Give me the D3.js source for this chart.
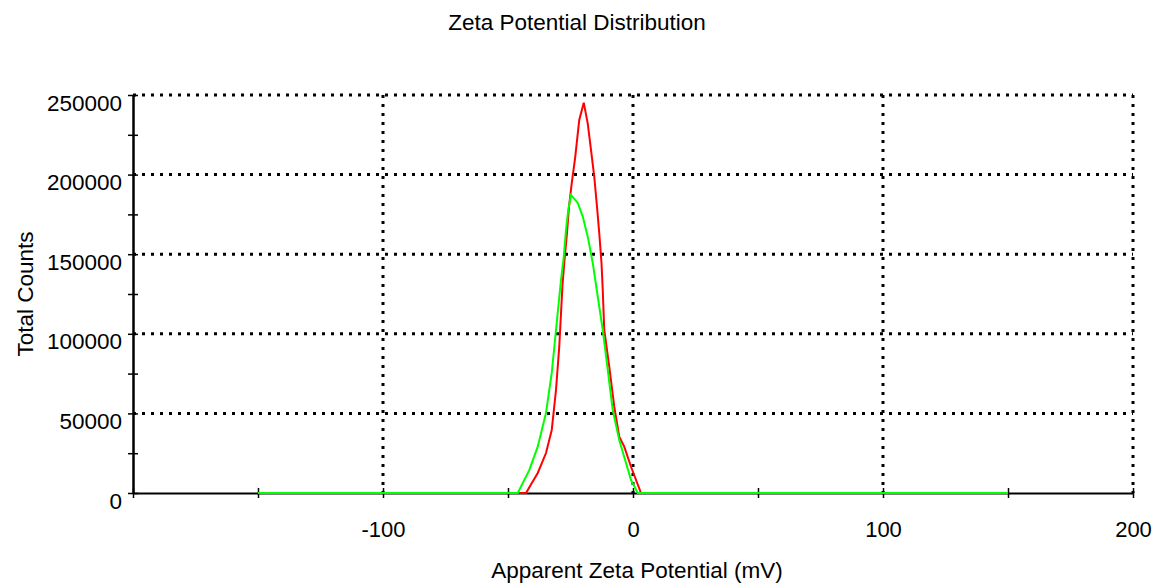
<!DOCTYPE html>
<html>
<head>
<meta charset="utf-8">
<script src="https://cdn.jsdelivr.net/npm/d3@7"></script>
<style>
    body { margin: 0; background: #fff; }
    text { font-family: "Liberation Sans", Arial, sans-serif; fill: #000; }
</style>
</head>
<body>
<div id="canvas"></div>
<script>
// values
var redMv = [-150, -42.8, -38.1, -34.8, -32.5, -30.8, -29.5, -28.2, -27.5, -26.4, -25.6, -24.5, -23.1, -21.5, -19.7,
             -18.1, -16.8, -15.5, -14.4, -13.5, -12.6, -12.1, -11.5, -9.5, -7.5, -5.5, -3.5, -0.8, 3.2, 150];
var redCounts = [0, 0, 12600, 25100, 39600, 64700, 91900, 130700, 144500, 163300, 179800, 194700, 211200, 234300, 245200,
                 232000, 215500, 198700, 179800, 163300, 144500, 127500, 102400, 79300, 54200, 35400, 29100, 16500, 0, 0];

var greenMv = [-150, -46.1, -41.5, -38.1, -34.8, -32.5, -30.8, -28.8, -27.7, -26.8, -25.9, -24.8,
               -22.1, -20.1, -18.1, -16.1, -14.8, -12.1, -10.1, -8.1, -5.5, -2.8, -0.8, 1.9, 150];
var greenCounts = [0, 0, 14400, 29100, 50300, 75400, 102400, 133800, 148400, 165200, 177800, 187200,
                   182200, 173600, 161000, 144500, 130700, 102400, 77300, 52100, 33300, 18800, 8200, 0, 0];

var xTicks = [-200, -150, -100, -50, 0, 50, 100, 150, 200];
var xLabels = [-100, 0, 100, 200];
var yTicks = [0, 25000, 50000, 75000, 100000, 125000, 150000, 175000, 200000, 225000, 250000];
var yLabels = [0, 50000, 100000, 150000, 200000, 250000];

var titleText = "Zeta Potential Distribution";
var xTitle = "Apparent Zeta Potential (mV)";
var yTitle = "Total Counts";

function drawGraph() {
    var margin = {top: 95, right: 21, bottom: 91, left: 133};
    var width = 1154 - margin.left - margin.right;
    var height = 584 - margin.top - margin.bottom;

    var root = d3.select("#canvas")
                .append("svg")
                    .attr("width", 1154)
                    .attr("height", 584);

    var svg = root.append("g")
                .attr("transform", "translate(" + margin.left + "," + margin.top + ")");

    var xScale = d3.scaleLinear()
                .domain([-200, 200])
                .range([0, width]);

    var yScale = d3.scaleLinear()
                .domain([0, 250000])
                .range([height, 0]);

    // dotted grid
    svg.selectAll(".hgrid")
        .data(yLabels.filter(function(d) { return d > 0; }))
        .enter().append("line")
        .attr("class", "hgrid")
        .attr("x1", xScale(-200))
        .attr("x2", xScale(200))
        .attr("y1", function(d) { return yScale(d); })
        .attr("y2", function(d) { return yScale(d); })
        .style("stroke", "#000")
        .style("stroke-width", 3)
        .style("stroke-dasharray", "3,6");

    svg.selectAll(".vgrid")
        .data(xLabels)
        .enter().append("line")
        .attr("class", "vgrid")
        .attr("x1", function(d) { return xScale(d); })
        .attr("x2", function(d) { return xScale(d); })
        .attr("y1", yScale(250000))
        .attr("y2", yScale(0))
        .style("stroke", "#000")
        .style("stroke-width", 3)
        .style("stroke-dasharray", "3,6");

    var xAxis = d3.axisBottom(xScale)
                .tickValues(xTicks)
                .tickSize(5)
                .tickSizeOuter(0)
                .tickFormat(function(d) { return xLabels.indexOf(d) >= 0 ? d : ""; });

    var yAxis = d3.axisLeft(yScale)
                .tickValues(yTicks)
                .tickSize(5)
                .tickSizeOuter(0)
                .tickFormat(function(d) { return yLabels.indexOf(d) >= 0 ? d : ""; });

    var gx = svg.append("g")
        .attr("class", "x axis")
        .attr("transform", "translate(0," + height + ")")
        .call(xAxis);
    gx.select(".domain").style("stroke", "#000").style("stroke-width", 2);
    gx.selectAll(".tick line").attr("y1", -5).attr("y2", 5).style("stroke", "#000").style("stroke-width", 1.5);
    gx.selectAll(".tick text")
        .attr("y", 44)
        .attr("dy", 0)
        .attr("font-size", "22px")
        .style("font-family", "'Liberation Sans', Arial, sans-serif");

    var gy = svg.append("g")
        .attr("class", "y axis")
        .call(yAxis);
    gy.select(".domain").style("stroke", "#000").style("stroke-width", 2.5);
    gy.selectAll(".tick line").attr("x1", 5).attr("x2", -5).style("stroke", "#000").style("stroke-width", 1.5);
    gy.selectAll(".tick text")
        .attr("x", -11)
        .attr("dy", 15)
        .attr("font-size", "22.5px")
        .style("font-family", "'Liberation Sans', Arial, sans-serif");

    var line = d3.line()
                .x(function(d) { return xScale(d[0]); })
                .y(function(d) { return yScale(d[1]); });

    svg.append("path")
        .datum(d3.zip(redMv, redCounts))
        .attr("d", line)
        .style("fill", "none")
        .style("stroke", "#ff0000")
        .style("stroke-width", 2);

    svg.append("path")
        .datum(d3.zip(greenMv, greenCounts))
        .attr("d", line)
        .style("fill", "none")
        .style("stroke", "#00ff00")
        .style("stroke-width", 2);

    // titles
    root.append("text")
        .attr("x", 577)
        .attr("y", 30)
        .style("text-anchor", "middle")
        .attr("font-size", "22.5px")
        .text(titleText);

    root.append("text")
        .attr("x", margin.left + width / 2 + 4)
        .attr("y", 578)
        .style("text-anchor", "middle")
        .attr("font-size", "22.5px")
        .text(xTitle);

    root.append("text")
        .attr("transform", "rotate(-90)")
        .attr("x", -294)
        .attr("y", 33)
        .style("text-anchor", "middle")
        .attr("font-size", "22.5px")
        .text(yTitle);
}

drawGraph();
</script>
</body>
</html>
